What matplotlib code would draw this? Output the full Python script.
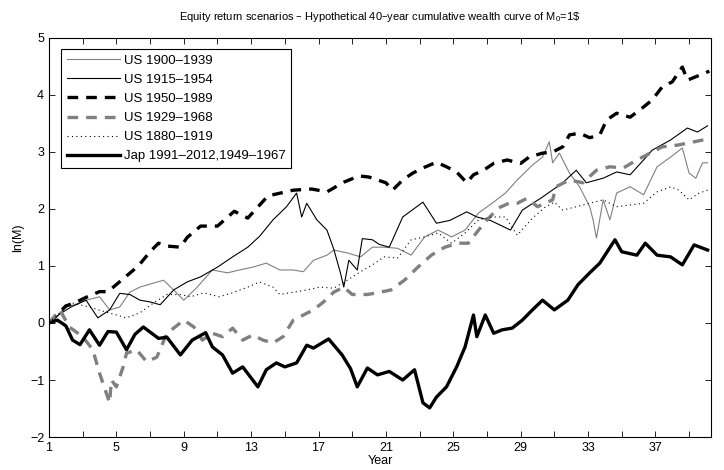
import matplotlib
matplotlib.use("Agg")
import matplotlib.pyplot as plt
import numpy as np

plt.rcParams['font.family'] = ['Liberation Sans', 'DejaVu Sans']

# years / ln(M)
us1900_x = [1, 1.5, 2, 2.6, 3.2, 4.0, 4.6, 5.2, 5.8, 6.4, 7.2, 7.8, 8.4, 9.0, 9.8, 10.7, 11.6,
            12.3, 13.1, 13.9, 14.7, 15.5, 16.1, 16.7, 17.5, 17.9, 18.7, 19.5, 20.2, 20.9, 21.7,
            22.5, 23.3, 24.1, 24.9, 25.7, 26.5, 27.3, 28.1, 28.8, 29.7, 30.3, 30.7, 30.9, 31.3,
            31.9, 32.5, 33.1, 33.3, 33.5, 33.9, 34.3, 34.7, 35.5, 36.3, 37.1, 37.9, 38.6, 39.0,
            39.4, 39.8, 40.1]
us1900_y = [0, 0.12, 0.28, 0.33, 0.4, 0.46, 0.23, 0.28, 0.54, 0.63, 0.7, 0.75, 0.58, 0.4, 0.63,
            0.93, 0.88, 0.93, 0.98, 1.05, 0.93, 0.93, 0.9, 1.1, 1.19, 1.28, 1.23, 1.16, 1.33, 1.33,
            1.31, 1.19, 1.51, 1.63, 1.51, 1.63, 1.93, 2.1, 2.28, 2.51, 2.77, 2.91, 3.18, 2.81, 2.98,
            2.63, 2.39, 2.04, 1.81, 1.49, 2.16, 1.81, 2.28, 2.39, 2.25, 2.74, 2.91, 3.07, 2.63,
            2.54, 2.81, 2.81]

us1915_x = [1, 1.6, 2.3, 3.2, 3.9, 4.6, 5.2, 5.8, 6.4, 7.0, 7.6, 8.4, 9.2, 10.0, 11.0, 11.9,
            12.8, 13.5, 14.3, 15.1, 15.7, 16.0, 16.3, 16.9, 17.5, 17.9, 18.3, 18.5, 18.8, 19.3,
            19.6, 20.2, 20.6, 21.2, 22.0, 23.2, 24.0, 24.8, 25.8, 26.4, 27.2, 28.4, 29.1, 30.3,
            31.5, 32.3, 32.9, 33.9, 34.7, 35.5, 36.3, 36.8, 37.9, 38.9, 39.5, 40.1]
us1915_y = [0, 0.15, 0.28, 0.4, 0.09, 0.23, 0.52, 0.5, 0.4, 0.37, 0.32, 0.58, 0.72, 0.81, 0.98,
            1.16, 1.33, 1.52, 1.81, 2.04, 2.28, 1.86, 2.1, 1.81, 1.63, 1.3, 0.88, 0.63, 1.1, 0.93,
            1.48, 1.46, 1.38, 1.33, 1.86, 2.12, 1.75, 1.8, 1.95, 1.86, 1.8, 1.63, 1.98, 2.21, 2.46,
            2.68, 2.46, 2.54, 2.65, 2.6, 2.86, 3.03, 3.21, 3.42, 3.35, 3.46]

us1950_x = [1, 1.5, 2.0, 2.5, 3.2, 4.0, 4.5, 5.5, 6.3, 7.0, 7.5, 8.0, 8.8, 9.2, 10.0, 11.0,
            12.0, 12.8, 14.0, 15.5, 16.6, 17.5, 18.5, 19.4, 20.0, 21.0, 21.4, 22.0, 22.6, 23.2,
            24.0, 24.6, 25.2, 25.8, 26.2, 26.8, 27.4, 28.2, 29.0, 29.5, 30.3, 30.9, 31.5, 31.9,
            32.5, 33.1, 33.7, 34.1, 34.7, 35.5, 36.3, 36.8, 37.4, 38.0, 38.6, 38.9, 39.4, 40.0,
            40.2]
us1950_y = [0, 0.15, 0.3, 0.35, 0.45, 0.55, 0.55, 0.8, 1.0, 1.25, 1.4, 1.35, 1.33, 1.5, 1.7,
            1.7, 1.96, 1.84, 2.23, 2.33, 2.35, 2.3, 2.47, 2.58, 2.56, 2.46, 2.33, 2.51, 2.63, 2.72,
            2.82, 2.74, 2.65, 2.46, 2.6, 2.68, 2.8, 2.86, 2.8, 2.91, 2.98, 3.0, 3.09, 3.3, 3.33,
            3.25, 3.3, 3.56, 3.68, 3.61, 3.79, 3.91, 4.14, 4.23, 4.49, 4.26, 4.32, 4.39, 4.42]

us1929_x = [1, 1.65, 2.2, 3.0, 3.6, 4.0, 4.4, 4.6, 4.7, 5.0, 5.4, 5.6, 6.2, 6.8, 7.4, 8.0,
            8.4, 9.0, 9.6, 10.1, 10.7, 11.3, 11.9, 12.5, 13.1, 13.7, 14.3, 14.9, 15.5, 16.1,
            16.7, 17.3, 17.9, 18.5, 19.0, 19.9, 20.5, 21.3, 22.1, 22.9, 23.7, 24.5, 25.3, 25.9,
            26.5, 27.1, 27.7, 28.3, 28.8, 29.4, 30.0, 30.9, 31.1, 31.9, 32.7, 33.5, 34.3, 35.1,
            35.9, 36.7, 37.4, 38.3, 39.0, 39.8, 40.2]
us1929_y = [0, 0.23, -0.07, -0.24, -0.47, -0.88, -1.23, -1.4, -1.0, -1.12, -0.77, -0.53, -0.47,
            -0.68, -0.6, -0.18, -0.09, 0.05, -0.07, -0.3, -0.18, -0.24, -0.09, -0.3, -0.21, -0.3,
            -0.35, -0.24, 0.05, 0.14, 0.23, 0.37, 0.54, 0.63, 0.5, 0.5, 0.53, 0.58, 0.75, 0.98,
            1.19, 1.33, 1.4, 1.4, 1.63, 1.84, 2.02, 2.1, 2.1, 2.19, 2.04, 2.16, 2.39, 2.51, 2.46,
            2.68, 2.74, 2.72, 2.86, 2.98, 3.09, 3.12, 3.16, 3.21, 3.25]

us1880_x = [1, 1.7, 2.4, 3.4, 4.4, 5.6, 6.4, 7.2, 8.0, 8.8, 9.4, 10.2, 11.1, 11.9, 12.8, 13.5,
            14.3, 14.7, 15.5, 16.3, 17.1, 17.9, 18.7, 19.5, 20.2, 20.9, 21.7, 22.5, 23.3, 24.1,
            24.9, 25.7, 26.5, 27.3, 28.1, 28.8, 29.7, 30.4, 31.0, 31.5, 32.3, 33.1, 33.9, 34.7,
            35.5, 36.3, 37.1, 37.9, 38.4, 39.0, 39.6, 40.1]
us1880_y = [0, 0.2, 0.35, 0.28, 0.19, 0.09, 0.18, 0.35, 0.5, 0.5, 0.46, 0.53, 0.46, 0.53, 0.63,
            0.72, 0.63, 0.5, 0.54, 0.58, 0.63, 0.61, 0.75, 0.9, 1.02, 1.16, 1.14, 1.46, 1.51, 1.58,
            1.4, 1.58, 1.81, 1.86, 1.86, 1.54, 1.84, 2.02, 2.12, 1.98, 2.04, 2.1, 2.16, 2.04, 2.07,
            2.1, 2.3, 2.39, 2.33, 2.16, 2.28, 2.33]

jap_x = [1, 1.5, 2.0, 2.4, 2.84, 3.4, 4.0, 4.5, 5.0, 5.6, 6.1, 6.6, 7.5, 8.0, 8.8, 9.5, 10.3,
         10.7, 11.3, 11.9, 12.5, 13.4, 13.9, 14.5, 15.0, 15.7, 16.3, 16.7, 17.6, 18.4, 18.9,
         19.3, 19.9, 20.5, 21.2, 22.0, 22.7, 23.2, 23.6, 24.0, 24.6, 25.2, 25.7, 26.2, 26.4,
         26.9, 27.4, 27.9, 28.5, 29.1, 29.7, 30.3, 31.0, 31.8, 32.4, 33.1, 33.7, 34.6, 35.0,
         35.9, 36.4, 37.1, 37.9, 38.6, 39.3, 40.1]
jap_y = [0, 0.05, -0.05, -0.3, -0.38, -0.12, -0.39, -0.15, -0.16, -0.47, -0.2, -0.07, -0.27,
         -0.25, -0.56, -0.3, -0.17, -0.42, -0.56, -0.88, -0.77, -1.12, -0.82, -0.7, -0.77, -0.7,
         -0.39, -0.44, -0.28, -0.56, -0.8, -1.12, -0.79, -0.91, -0.85, -1.0, -0.82, -1.4, -1.49,
         -1.3, -1.12, -0.77, -0.42, 0.14, -0.24, 0.14, -0.18, -0.12, -0.09, 0.05, 0.23, 0.4,
         0.23, 0.4, 0.67, 0.88, 1.05, 1.46, 1.25, 1.19, 1.4, 1.19, 1.16, 1.02, 1.37, 1.28]

labels = ['US 1900\u20131939', 'US 1915\u20131954', 'US 1950\u20131989', 'US 1929\u20131968',
          'US 1880\u20131919', 'Jap 1991\u20132012,1949\u20131967']

fig = plt.figure(figsize=(7.24, 4.7), dpi=100)
ax = fig.add_axes([0.0677, 0.0702, 0.9143, 0.849])

gray = '#808080'
ax.plot(us1900_x, us1900_y, color=gray, lw=0.8, label=labels[0])
ax.plot(us1915_x, us1915_y, color='black', lw=0.8, label=labels[1])
ax.plot(us1950_x, us1950_y, color='black', lw=2.4, dashes=(3.2, 2.4), label=labels[2])
ax.plot(us1929_x, us1929_y, color=gray, lw=2.4, dashes=(3.2, 2.4), label=labels[3])
ax.plot(us1880_x, us1880_y, color='black', lw=0.8, dashes=(1, 3), label=labels[4])
ax.plot(jap_x, jap_y, color='black', lw=2.4, label=labels[5])

ax.set_xlim(1, 40.3)
ax.set_ylim(-2, 5)
ax.set_xticks(np.arange(1, 40, 2))
ax.set_xticklabels([str(t) if (t - 1) % 4 == 0 else '' for t in range(1, 40, 2)])
ax.set_yticks(range(-2, 6))
ax.tick_params(direction='in', top=True, right=True, labelsize=9, length=4, width=0.6)
for s in ax.spines.values():
    s.set_linewidth(0.8)

ax.set_xlabel('Year', fontsize=9, labelpad=1)
ax.set_ylabel('ln(M)', fontsize=9, labelpad=4)
ax.set_title('Equity return scenarios \u2013 Hypothetical 40\u2013year cumulative wealth curve of '
             r'M$\mathregular{_0}$=1\$', fontsize=8, pad=13)

leg = ax.legend(loc='upper left', fontsize=9.5, handlelength=4.0, handletextpad=0.3,
                labelspacing=0.52, borderpad=0.45, fancybox=False, framealpha=1,
                edgecolor='black', bbox_to_anchor=(0.018, 0.973), borderaxespad=0)
leg.get_frame().set_linewidth(0.8)

fig.savefig('out.png', dpi=100)
